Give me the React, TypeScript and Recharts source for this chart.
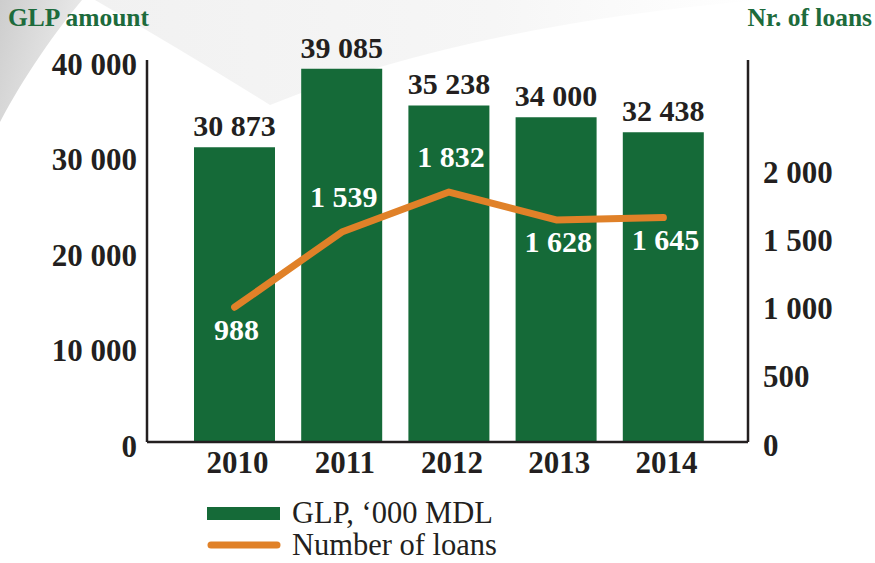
import React from 'react';
import { ComposedChart, Bar, Line, XAxis, YAxis, LabelList } from 'recharts';

const years = ['2010', '2011', '2012', '2013', '2014'];
const glpAmount = [30873, 39085, 35238, 34000, 32438];
const loanCount = [988, 1539, 1832, 1628, 1645];
const leftTicks = [0, 10000, 20000, 30000, 40000];
const rightTicks = [0, 500, 1000, 1500, 2000];
const loanLabelSide = ['below', 'above', 'above', 'below', 'below'];
const seriesNames = ['GLP, ‘000 MDL', 'Number of loans'];

const data = years.map((y, i) => ({ year: y, glp: glpAmount[i], loans: loanCount[i] }));

const GREEN = '#156a38';
const TITLE_GREEN = '#1d6b3c';
const ORANGE = '#e08128';
const DARK = '#231f20';
const FONT = '"Liberation Serif", "Times New Roman", serif';

const fmt = (v: any) => String(v).replace(/\B(?=(\d{3})+(?!\d))/g, ' ');

const LineLabel = (props: any) => {
  const { x, y, value, index } = props;
  const side = loanLabelSide[index];
  const cy = side === 'above' ? y - 36 : y + 22;
  return (
    <text x={x + 2} y={cy} textAnchor="middle" dominantBaseline="central" fill="#ffffff"
      fontFamily={FONT} fontWeight="bold" fontSize={30}>
      {fmt(value)}
    </text>
  );
};

const LeftTick = (props: any) => {
  const { x, y, payload } = props;
  return (
    <text x={x} y={y + 4} textAnchor="end" dominantBaseline="central" fill={DARK}
      fontFamily={FONT} fontWeight="bold" fontSize={31}>
      {fmt(payload.value)}
    </text>
  );
};

const RightTick = (props: any) => {
  const { x, y, payload } = props;
  return (
    <text x={x} y={y + 3} textAnchor="start" dominantBaseline="central" fill={DARK}
      fontFamily={FONT} fontWeight="bold" fontSize={31}>
      {fmt(payload.value)}
    </text>
  );
};

const XTick = (props: any) => {
  const { x, y, payload } = props;
  return (
    <text x={x + 3} y={y + 18} textAnchor="middle" dominantBaseline="central" fill={DARK}
      fontFamily={FONT} fontWeight="bold" fontSize={31}>
      {payload.value}
    </text>
  );
};

const LegendBlock = () => (
  <div style={{ position: 'absolute', left: 207, top: 497, fontFamily: FONT, fontSize: 30.5, color: DARK, lineHeight: '32px' }}>
    <div style={{ display: 'flex', alignItems: 'center', height: 32 }}>
      <svg width={85} height={32}>
        <rect x={0} y={10} width={73} height={13} fill={GREEN} />
      </svg>
      <span>{seriesNames[0]}</span>
    </div>
    <div style={{ display: 'flex', alignItems: 'center', height: 32 }}>
      <svg width={85} height={32}>
        <line x1={4} y1={16} x2={70} y2={16} stroke={ORANGE} strokeWidth={7} strokeLinecap="round" />
      </svg>
      <span>{seriesNames[1]}</span>
    </div>
  </div>
);

export default function App() {
  return (
    <div style={{ position: 'absolute', left: 0, top: 0, width: 875, height: 563, background: '#fff', overflow: 'hidden' }}>
      <svg width={875} height={563} style={{ position: 'absolute', left: 0, top: 0 }}>
        <defs>
          <linearGradient id="swL" x1="0" y1="0" x2="1" y2="0.4">
            <stop offset="0" stopColor="#cdcdcd" />
            <stop offset="1" stopColor="#ececec" />
          </linearGradient>
          <linearGradient id="swT" x1="0" y1="0" x2="1" y2="0">
            <stop offset="0" stopColor="#f1f1f1" />
            <stop offset="0.6" stopColor="#f6f6f6" />
            <stop offset="1" stopColor="#ffffff" />
          </linearGradient>
        </defs>
        <path d="M95,0 L760,0 Q470,25 270,105 Q190,55 95,0 Z" fill="url(#swT)" />
        <path d="M0,0 L82,0 C55,32 25,75 0,122 Z" fill="url(#swL)" />
      </svg>
      <div style={{ position: 'absolute', left: 8, top: 3, fontFamily: FONT, fontWeight: 'bold', fontSize: 25.5, color: TITLE_GREEN }}>
        GLP amount
      </div>
      <div style={{ position: 'absolute', right: 3, top: 3, fontFamily: FONT, fontWeight: 'bold', fontSize: 25.5, color: TITLE_GREEN }}>
        Nr. of loans
      </div>
      <div style={{ position: 'absolute', left: 0, top: 0 }}>
        <ComposedChart width={875} height={563} data={data}
          margin={{ top: 60, right: 0, bottom: 91, left: 0 }}>
          <XAxis dataKey="year" height={30} padding={{ left: 34, right: 31 }} axisLine={{ stroke: DARK, strokeWidth: 2.5 }}
            tickLine={false} tickSize={0} tick={<XTick />} interval={0} />
          <YAxis yAxisId="left" orientation="left" width={147} domain={[0, 40000]} ticks={leftTicks}
            axisLine={{ stroke: DARK, strokeWidth: 2.5 }} tickLine={false} tickSize={0} tickMargin={10}
            tick={<LeftTick />} interval={0} />
          <YAxis yAxisId="right" orientation="right" width={127} domain={[0, 2800]} ticks={rightTicks}
            axisLine={{ stroke: DARK, strokeWidth: 2.5 }} tickLine={false} tickSize={0} tickMargin={15}
            tick={<RightTick />} interval={0} />
          <Bar yAxisId="left" dataKey="glp" name={seriesNames[0]} fill={GREEN} barSize={81} isAnimationActive={false}>
            <LabelList dataKey="glp" position="top" offset={11} formatter={fmt}
              style={{ fontFamily: FONT, fontWeight: 'bold', fontSize: 30, fill: DARK }} />
          </Bar>
          <Line yAxisId="right" dataKey="loans" name={seriesNames[1]} stroke={ORANGE} strokeWidth={7} strokeLinecap="round"
            strokeLinejoin="round" dot={false} activeDot={false} isAnimationActive={false}>
            <LabelList dataKey="loans" content={<LineLabel />} />
          </Line>
        </ComposedChart>
      </div>
      <LegendBlock />
    </div>
  );
}
